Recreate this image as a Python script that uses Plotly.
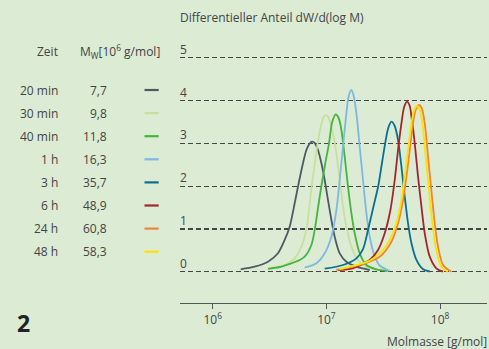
import plotly.graph_objects as go

# ---------------- data ----------------
times = ["20 min", "30 min", "40 min", "1 h", "3 h", "6 h", "24 h", "48 h"]
mw_values = ["7,7", "9,8", "11,8", "16,3", "35,7", "48,9", "60,8", "58,3"]
colors = ["#4b5b66", "#c8e09c", "#45b53d", "#7fb8e2", "#0a6f92", "#a3262b", "#f08536", "#fde300"]

logM_20min = [6.246, 6.369, 6.486, 6.574, 6.633, 6.677, 6.721, 6.756, 6.794, 6.824, 6.853, 6.873,
              6.897, 6.926, 6.956, 6.985, 7.014, 7.044, 7.073, 7.117, 7.176, 7.264, 7.381]
val_20min = [0.058, 0.119, 0.236, 0.432, 0.743, 1.053, 1.600, 2.067, 2.534, 2.844, 2.996, 3.038,
             3.008, 2.844, 2.534, 2.144, 1.677, 1.210, 0.820, 0.432, 0.236, 0.119, 0.042]

logM_30min = [6.486, 6.633, 6.721, 6.780, 6.824, 6.849, 6.871, 6.897, 6.923, 6.950, 6.972, 6.994,
              7.016, 7.044, 7.088, 7.117, 7.146, 7.176, 7.220, 7.278, 7.352, 7.451]
val_30min = [0.082, 0.159, 0.315, 0.586, 0.988, 1.490, 2.004, 2.517, 3.001, 3.382, 3.592, 3.662,
             3.615, 3.389, 2.767, 2.144, 1.520, 1.053, 0.586, 0.276, 0.119, 0.042]

logM_40min = [6.486, 6.589, 6.692, 6.765, 6.809, 6.868, 6.897, 6.926, 6.956, 6.989, 7.023, 7.051,
              7.082, 7.108, 7.132, 7.161, 7.190, 7.220, 7.249, 7.293, 7.352, 7.440, 7.539]
val_40min = [0.070, 0.112, 0.199, 0.276, 0.353, 0.626, 0.976, 1.490, 2.004, 2.517, 3.001, 3.498,
             3.678, 3.592, 3.312, 2.688, 1.987, 1.366, 0.899, 0.432, 0.159, 0.058, 0.019]

logM_1h = [6.809, 6.912, 6.985, 7.044, 7.088, 7.117, 7.146, 7.176, 7.196, 7.220, 7.240, 7.264,
           7.293, 7.322, 7.352, 7.381, 7.425, 7.469, 7.557]
val_1h = [0.096, 0.199, 0.432, 0.820, 1.443, 2.144, 2.921, 3.702, 4.106, 4.246, 4.106, 3.702,
          2.921, 2.144, 1.366, 0.820, 0.353, 0.147, 0.019]

logM_3h = [6.985, 7.146, 7.264, 7.322, 7.368, 7.412, 7.456, 7.486, 7.517, 7.544, 7.572, 7.601,
           7.630, 7.660, 7.689, 7.718, 7.748, 7.792, 7.850, 7.909]
val_3h = [0.072, 0.159, 0.315, 0.532, 1.000, 1.502, 2.004, 2.494, 3.001, 3.358, 3.505, 3.405,
          3.078, 2.454, 1.754, 1.133, 0.666, 0.276, 0.058, 0.007]

logM_6h = [7.099, 7.231, 7.381, 7.454, 7.513, 7.563, 7.601, 7.630, 7.660, 7.684, 7.709, 7.733,
           7.748, 7.777, 7.806, 7.836, 7.865, 7.909, 7.967, 8.026]
val_6h = [0.042, 0.082, 0.276, 0.509, 0.899, 1.443, 2.144, 2.844, 3.468, 3.849, 3.972, 3.872,
          3.622, 3.001, 2.221, 1.520, 0.899, 0.353, 0.082, 0.002]

logM_24h = [7.088, 7.293, 7.469, 7.572, 7.630, 7.674, 7.704, 7.733, 7.762, 7.785, 7.814, 7.838,
            7.865, 7.894, 7.923, 7.953, 7.982, 8.026, 8.099]
val_24h = [0.042, 0.159, 0.353, 0.703, 1.133, 1.677, 2.221, 2.844, 3.468, 3.779, 3.895, 3.825,
           3.468, 2.688, 1.910, 1.133, 0.586, 0.159, 0.002]

logM_48h = [7.117, 7.205, 7.381, 7.484, 7.557, 7.616, 7.660, 7.689, 7.718, 7.748, 7.772, 7.797,
            7.821, 7.844, 7.873, 7.902, 7.932, 7.967, 8.011, 8.069]
val_48h = [0.065, 0.119, 0.259, 0.469, 0.743, 1.133, 1.677, 2.221, 2.844, 3.468, 3.779, 3.872,
           3.779, 3.468, 2.688, 1.910, 1.133, 0.509, 0.119, 0.002]

y_ticks = [0, 1, 2, 3, 4, 5]
x_ticks = [1e6, 1e7, 1e8]

series_logM = [logM_20min, logM_30min, logM_40min, logM_1h, logM_3h, logM_6h, logM_24h, logM_48h]
series_val = [val_20min, val_30min, val_40min, val_1h, val_3h, val_6h, val_24h, val_48h]

# ---------------- layout helpers ----------------
W, H = 489, 349
L, R, T, B = 180, 2, 49, 46
PW, PH = W - L - R, H - T - B


def px(xp):
    return (xp - L) / PW


def py(yp):
    return (H - B - yp) / PH


BG = "#dbebd4"
TXT = "#444444"
FONT = "Open Sans"
FS = 12

fig = go.Figure()
for lm, vals, name, col in zip(series_logM, series_val, times, colors):
    fig.add_trace(go.Scatter(
        x=[10 ** v for v in lm], y=vals, mode="lines", name=name,
        line=dict(color=col, width=1.8, shape="spline", smoothing=0.8),
        showlegend=False, hoverinfo="skip"))

annotations = []
shapes = []

# y tick labels above the dashed grid lines
for v in y_ticks:
    annotations.append(dict(x=0, xref="paper", y=v, yref="y", text=str(v),
                            xanchor="left", yanchor="bottom", showarrow=False,
                            font=dict(family=FONT, size=FS, color=TXT), xshift=-2, yshift=-2))

# titles
annotations.append(dict(x=px(178), y=py(17), xref="paper", yref="paper",
                        text="Differentieller Anteil dW/d(log M)", showarrow=False,
                        xanchor="left", yanchor="middle",
                        font=dict(family=FONT, size=FS, color=TXT)))
annotations.append(dict(x=px(489), y=py(341), xref="paper", yref="paper",
                        text="Molmasse [g/mol]", showarrow=False,
                        xanchor="right", yanchor="middle",
                        font=dict(family=FONT, size=FS, color=TXT)))
annotations.append(dict(x=px(15), y=py(323), xref="paper", yref="paper",
                        text="<b>2</b>", showarrow=False,
                        xanchor="left", yanchor="middle",
                        font=dict(family=FONT, size=23, color="#222222")))

# legend table header
annotations.append(dict(x=px(60), y=py(51), xref="paper", yref="paper", text="Zeit",
                        showarrow=False, xanchor="right", yanchor="middle",
                        font=dict(family=FONT, size=FS, color=TXT)))
annotations.append(dict(x=px(78), y=py(51), xref="paper", yref="paper",
                        text="M<sub>W</sub>[10<sup>6</sup> g/mol]",
                        showarrow=False, xanchor="left", yanchor="middle",
                        font=dict(family=FONT, size=FS, color=TXT)))

# legend rows
for i, (t, mw, col) in enumerate(zip(times, mw_values, colors)):
    yc = 90 + 23.1 * i
    annotations.append(dict(x=px(60), y=py(yc), xref="paper", yref="paper", text=t,
                            showarrow=False, xanchor="right", yanchor="middle",
                            font=dict(family=FONT, size=FS, color=TXT)))
    annotations.append(dict(x=px(109), y=py(yc), xref="paper", yref="paper", text=mw,
                            showarrow=False, xanchor="right", yanchor="middle",
                            font=dict(family=FONT, size=FS, color=TXT)))
    shapes.append(dict(type="line", xref="paper", yref="paper",
                       x0=px(144.5), x1=px(158.7), y0=py(yc), y1=py(yc),
                       line=dict(color=col, width=2.2)))

fig.update_layout(
    width=W, height=H,
    margin=dict(l=L, r=R, t=T, b=B, pad=0),
    paper_bgcolor=BG, plot_bgcolor=BG,
    annotations=annotations, shapes=shapes,
    showlegend=False,
    font=dict(family=FONT, size=FS, color=TXT),
    xaxis=dict(type="log", range=[5.7124, 8.4125], tickvals=x_ticks,
               ticktext=["10<sup>6</sup>", "10<sup>7</sup>", "10<sup>8</sup>"],
               showgrid=False, zeroline=False, showline=True, linecolor="#555555",
               linewidth=1.3, ticks="outside", ticklen=5, tickwidth=1.2,
               tickcolor="#555555", tickfont=dict(family=FONT, size=FS, color=TXT)),
    yaxis=dict(range=[-0.7286, 5.203], tickvals=y_ticks, showticklabels=False,
               showgrid=True, gridcolor="#454545", gridwidth=1.2, griddash="5px,3px",
               zeroline=False, showline=False, ticks=""),
)

fig.write_html("out.html", config={"displayModeBar": False, "staticPlot": True},
               post_script="document.body.style.margin='0';document.body.style.background='" + BG + "';")
